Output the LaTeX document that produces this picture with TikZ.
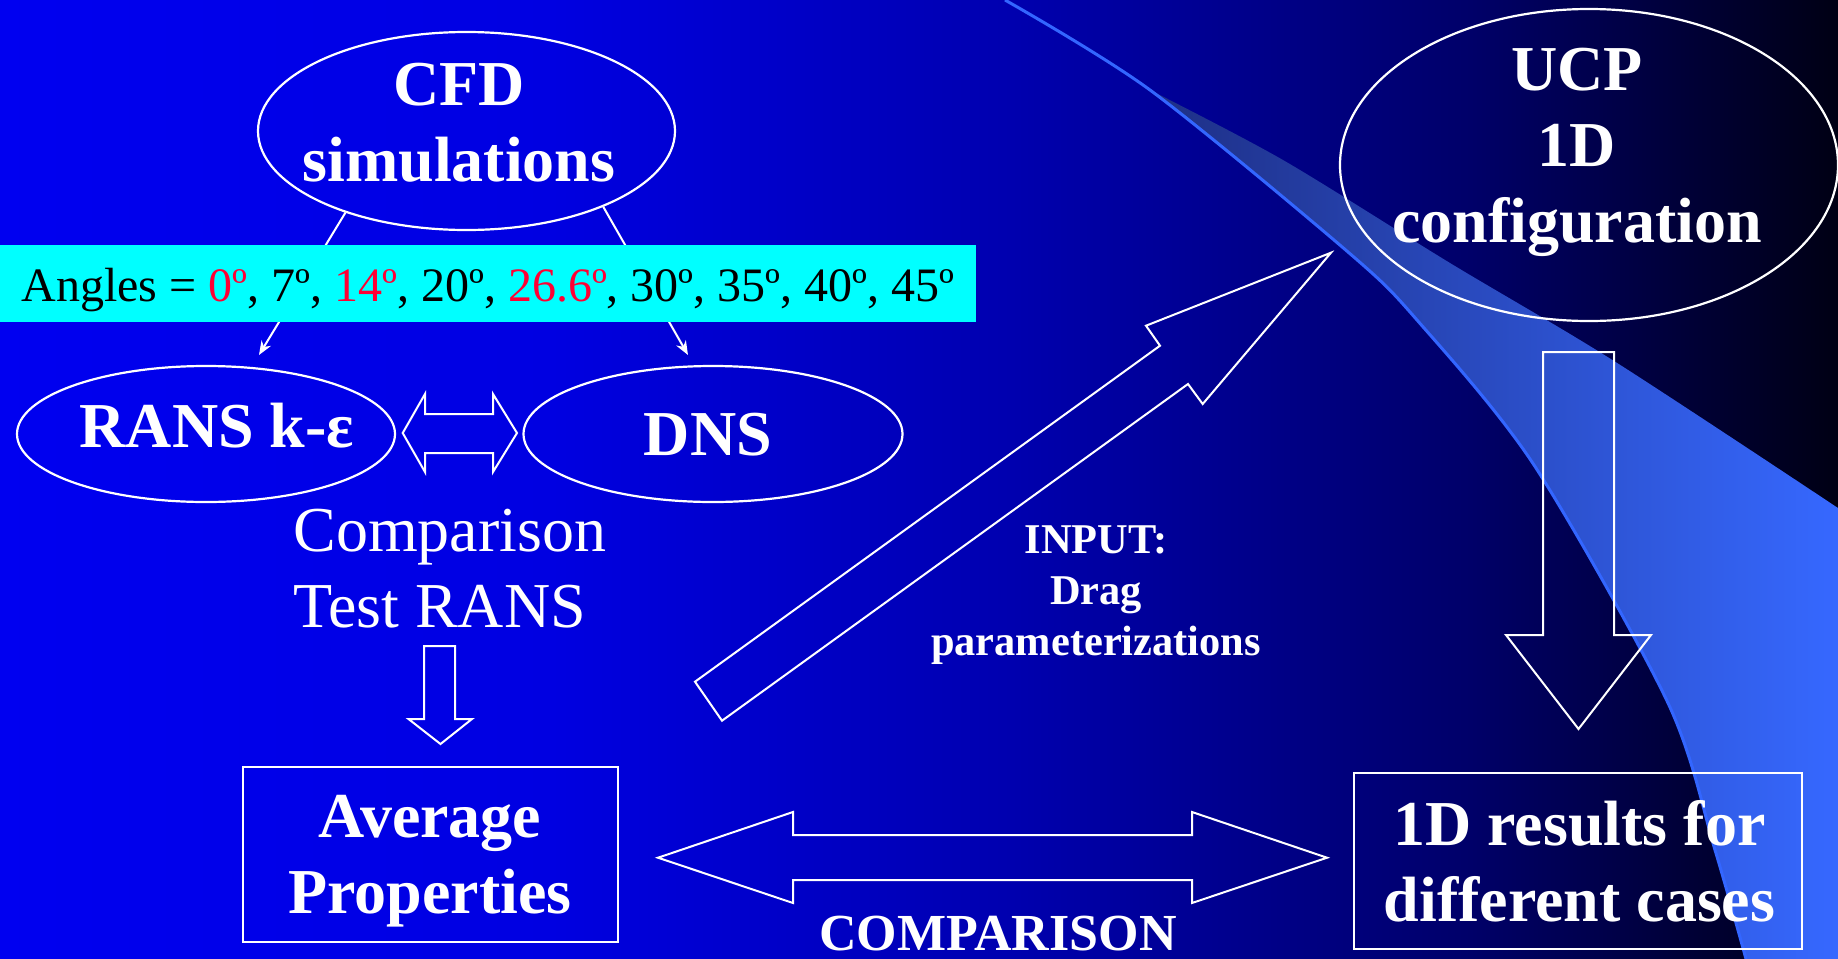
\documentclass[tikz,border=0pt]{standalone}
\usepackage{fontspec}
\setmainfont{Liberation Serif}
\usetikzlibrary{shapes.geometric,arrows.meta}
\definecolor{bgA}{RGB}{0,0,240}
\definecolor{bgB}{RGB}{0,0,225}
\definecolor{bgC}{RGB}{0,0,175}
\definecolor{bgD}{RGB}{0,0,105}
\definecolor{bgE}{RGB}{0,0,20}
\definecolor{redtxt}{RGB}{255,0,51}
\definecolor{swl}{RGB}{30,47,133}
\definecolor{swr}{RGB}{54,104,255}
\definecolor{swline}{RGB}{51,102,255}
\definecolor{bandcyan}{RGB}{0,255,255}
\pgfdeclarehorizontalshading{bgshade}{100bp}{color(0bp)=(bgA); color(25bp)=(bgA); color(40bp)=(bgB); color(52.5bp)=(bgC); color(65bp)=(bgD); color(75bp)=(bgE); color(100bp)=(bgE)}
\newcommand{\lst}{\rule[-0.25em]{0pt}{1em}}
\begin{document}
\begin{tikzpicture}[x=0.5pt,y=-0.5pt,
  ellbox/.style={ellipse, draw=white, line width=1.1pt, inner sep=0pt},
  recbox/.style={rectangle, draw=white, line width=1.1pt, inner sep=0pt},
  bigtxt/.style={font=\fontsize{32}{38}\selectfont\bfseries, text=white, inner sep=0pt, align=center},
  regtxt/.style={font=\fontsize{32}{38}\selectfont, text=white, inner sep=0pt, align=left},
  conn/.style={draw=white, line width=1pt, -{Stealth[length=7pt,width=5.5pt]}},
  hollow/.style={draw=white, line width=1pt, line join=miter}]
\useasboundingbox (0,0) rectangle (1838,959);
\shade[shading=bgshade] (0,0) rectangle (1838,959);
% swoosh
\shade[left color=swl, right color=swr]
  plot[smooth] coordinates {(1150,90) (1348,252) (1417,320) (1534,465) (1668,703) (1715,850) (1746,959)}
  -- (1838,959) -- (1838,508)
  -- plot[smooth] coordinates {(1838,508) (1614,361) (1450,263) (1283,160) (1150,90)} -- cycle;
\draw[swline, line width=1.5pt] plot[smooth] coordinates {(1005,0) (1150,90) (1348,252) (1417,320) (1534,465) (1668,703) (1715,850) (1746,959)};

% CFD ellipse and connectors
\node[ellbox, minimum width=208.5pt, minimum height=99pt] (cfd) at (466.5,131) {};
\node[bigtxt] (cfdt) at (459,127) {\lst CFD\\\lst simulations};
\coordinate (ransin) at (259,355);
\coordinate (dnsin) at (688,355);
\draw[conn] (cfd.214) -- (ransin);
\draw[conn] (cfd.331) -- (dnsin);

% angles band
\node[fill=bandcyan, minimum width=488pt, minimum height=38.5pt, inner sep=0pt,
  font=\fontsize{24}{28}\selectfont, text height=20pt, text depth=2.5pt] (angles) at (488,283.5)
  {Angles = \textcolor{redtxt}{0º}, 7º, \textcolor{redtxt}{14º}, 20º, \textcolor{redtxt}{26.6º}, 30º, 35º, 40º, 45º};

% RANS / DNS
\node[ellbox, minimum width=189pt, minimum height=68pt] (rans) at (206,434) {};
\node[bigtxt, anchor=base] (ranst) at (217,447) {RANS k-ε};
\node[ellbox, minimum width=189.5pt, minimum height=68pt] (dns) at (713,434) {};
\node[bigtxt, anchor=base] (dnst) at (708,455) {DNS};
\draw[hollow] (402.7,433) -- (425,394) -- (425,414) -- (493,414) -- (493,394) -- (517,433)
  -- (493,472) -- (493,453) -- (425,453) -- (425,472) -- cycle;

% comparison test
\node[regtxt, anchor=west] (compt) at (293,573.7) {\lst Comparison\\\lst Test RANS};
\draw[hollow] (424,646) -- (455,646) -- (455,719) -- (472,719) -- (440.5,744) -- (408.5,719) -- (424,719) -- cycle;

% average properties
\node[recbox, minimum width=187.5pt, minimum height=87.5pt] (avg) at (430.5,854.5) {};
\node[bigtxt] (avgt) at (430,859.5) {\lst Average\\\lst Properties};

% diagonal input arrow
\draw[hollow] (695,681.7) -- (1160,345.7) -- (1146,325.7) -- (1331,252.7) -- (1202.7,404)
  -- (1188,384) -- (722,720.7) -- cycle;
\node[font=\fontsize{21.2}{25.5}\selectfont\bfseries, text=white, inner sep=0pt, align=center] (inputt)
  at (1096,593.4) {\lst INPUT:\\\lst Drag\\\lst parameterizations};

% UCP
\node[ellbox, minimum width=249pt, minimum height=156pt] (ucp) at (1589,165) {};
\node[bigtxt] (ucpt) at (1577,150.5) {\lst UCP\\\lst 1D\\\lst configuration};
\draw[hollow] (1543,352) -- (1614,352) -- (1614,635) -- (1651,635) -- (1578.5,729) -- (1506,635) -- (1543,635) -- cycle;

% results
\node[recbox, minimum width=224pt, minimum height=88pt] (res) at (1578,861) {};
\node[bigtxt] (rest) at (1579.5,867.4) {\lst 1D results for\\\lst different cases};

% comparison double arrow
\draw[hollow] (658,857.7) -- (793,812) -- (793,835) -- (1192,835) -- (1192,812) -- (1327,857.7)
  -- (1192,903) -- (1192,880) -- (793,880) -- (793,903) -- cycle;
\node[font=\fontsize{26}{30}\selectfont\bfseries, text=white, inner sep=0pt, anchor=base] (cmpt) at (998,950) {COMPARISON};
\end{tikzpicture}
\end{document}
